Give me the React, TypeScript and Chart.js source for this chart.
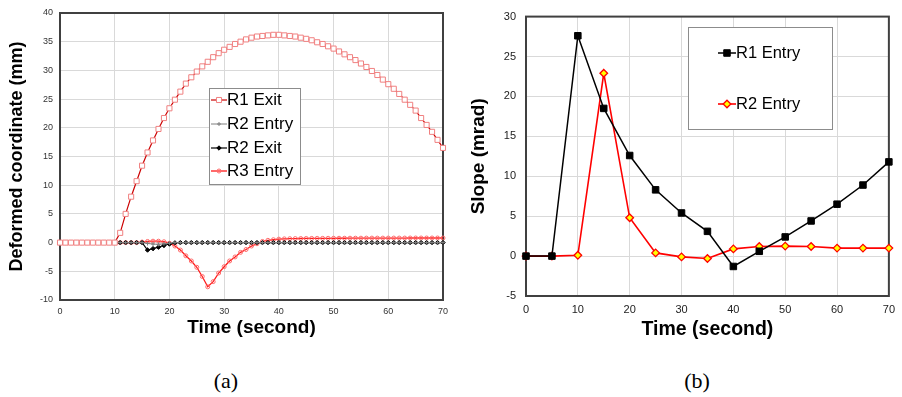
import React, { useEffect, useRef } from 'react';
import { Chart, registerables } from 'chart.js';
import { drawPoint } from 'chart.js/helpers';

Chart.register(...registerables);

const FONT = "'Liberation Sans', Arial, Helvetica, sans-serif";

// ---------- Chart (a) data ----------
const timeA = [
  0, 1, 2, 3, 4, 5, 6, 7, 8, 9, 10, 11, 12, 13, 14, 15, 16, 17, 18, 19, 20,
  21, 22, 23, 24, 25, 26, 27, 28, 29, 30, 31, 32, 33, 34, 35, 36, 37, 38, 39, 40,
  41, 42, 43, 44, 45, 46, 47, 48, 49, 50, 51, 52, 53, 54, 55, 56, 57, 58, 59, 60,
  61, 62, 63, 64, 65, 66, 67, 68, 69, 70,
];
const r1Exit = [
  0, 0, 0, 0, 0, 0, 0, 0, 0, 0, 0, 1.7, 5.0, 8.0, 10.7, 13.4, 15.7, 17.8, 19.8, 21.7, 23.4,
  24.9, 26.3, 27.7, 28.8, 29.8, 30.7, 31.5, 32.3, 33.0, 33.6, 34.1, 34.6, 35.0, 35.4, 35.7, 35.9, 36.0, 36.1, 36.2, 36.2,
  36.1, 36.0, 35.9, 35.7, 35.5, 35.25, 34.9, 34.6, 34.2, 33.8, 33.3, 32.8, 32.3, 31.8, 31.2, 30.6, 29.9, 29.2, 28.4, 27.6,
  26.8, 25.9, 24.9, 24.0, 23.0, 21.7, 20.5, 19.3, 17.9, 16.5,
];
const r2EntryA = [
  0, 0, 0, 0, 0, 0, 0, 0, 0, 0, 0, 0, 0, 0, 0, 0, -0.15, -0.25, -0.3, -0.2, -0.1,
  0, 0, 0, 0, 0, 0, 0, 0, 0, 0, 0, 0, 0, 0, 0, 0, 0, 0, 0, 0,
  0, 0, 0, 0, 0, 0, 0, 0, 0, 0, 0, 0, 0, 0, 0, 0, 0, 0, 0, 0,
  0, 0, 0, 0, 0, 0, 0, 0, 0, 0,
];
const r2Exit = [
  0, 0, 0, 0, 0, 0, 0, 0, 0, 0, 0, 0, 0, 0, 0, 0, -1.3, -1.05, -0.8, -0.5, -0.25,
  -0.05, 0, 0, 0, 0, 0, 0, 0, 0, 0, 0, 0, 0, 0, 0, 0, 0, 0, 0, 0,
  0, 0, 0, 0, 0, 0, 0, 0, 0, 0, 0, 0, 0, 0, 0, 0, 0, 0, 0, 0,
  0, 0, 0, 0, 0, 0, 0, 0, 0, 0,
];
const r3Entry = [
  0, 0, 0, 0, 0, 0, 0, 0, 0, 0, 0, 0, 0, 0, 0, 0.1, 0.2, 0.25, 0.25, 0.15, -0.1,
  -0.6, -1.3, -2.3, -3.2, -4.3, -5.9, -7.7, -6.8, -5.3, -4.2, -3.2, -2.5, -1.7, -1.2, -0.6, -0.2, 0.2, 0.4, 0.5, 0.6,
  0.65, 0.68, 0.7, 0.71, 0.72, 0.73, 0.74, 0.74, 0.75, 0.75, 0.76, 0.76, 0.77, 0.77, 0.77, 0.78, 0.78, 0.78, 0.78, 0.79,
  0.79, 0.79, 0.79, 0.8, 0.8, 0.8, 0.8, 0.8, 0.8, 0.8,
];
const labelsA = ['R1 Exit', 'R2 Entry', 'R2 Exit', 'R3 Entry'];

// ---------- Chart (b) data ----------
const timeB = [0, 5, 10, 15, 20, 25, 30, 35, 40, 45, 50, 55, 60, 65, 70];
const r1EntryB = [0, 0, 27.6, 18.5, 12.6, 8.3, 5.4, 3.1, -1.3, 0.6, 2.4, 4.4, 6.5, 8.9, 11.8];
const r2EntryB = [0, 0, 0.1, 22.9, 4.8, 0.4, -0.1, -0.3, 0.9, 1.2, 1.25, 1.2, 1.0, 1.0, 1.0];
const labelsB = ['R1 Entry', 'R2 Entry'];

const toXY = (xs: number[], ys: number[]) => xs.map((x, i) => ({ x, y: ys[i] }));

const framePlugin = {
  id: 'frame',
  beforeDatasetsDraw(chart: any, _args: any, o: any) {
    const { ctx, chartArea: a } = chart;
    ctx.save();
    ctx.strokeStyle = o.color;
    ctx.lineWidth = o.width;
    ctx.strokeRect(a.left, a.top, a.right - a.left, a.bottom - a.top);
    ctx.restore();
  },
};

const boxLegendPlugin = {
  id: 'boxLegend',
  afterDraw(chart: any, _args: any, o: any) {
    const ctx = chart.ctx;
    ctx.save();
    ctx.fillStyle = '#ffffff';
    ctx.fillRect(o.x, o.y, o.w, o.h);
    ctx.strokeStyle = o.borderColor;
    ctx.lineWidth = 1;
    ctx.strokeRect(o.x + 0.5, o.y + 0.5, o.w, o.h);
    chart.data.datasets.forEach((ds: any, i: number) => {
      const y = o.rows[i];
      ctx.strokeStyle = ds.borderColor;
      ctx.lineWidth = ds.borderWidth;
      ctx.beginPath();
      ctx.moveTo(o.lineX0, y);
      ctx.lineTo(o.lineX1, y);
      ctx.stroke();
      ctx.fillStyle = ds.pointBackgroundColor;
      ctx.strokeStyle = ds.pointBorderColor;
      ctx.lineWidth = ds.pointBorderWidth;
      drawPoint(
        ctx,
        { pointStyle: ds.pointStyle, radius: ds.pointRadius, rotation: 0, borderWidth: ds.pointBorderWidth } as any,
        (o.lineX0 + o.lineX1) / 2,
        y
      );
      ctx.fillStyle = '#000000';
      ctx.font = o.font;
      ctx.textBaseline = 'middle';
      ctx.textAlign = 'left';
      ctx.fillText(ds.label, o.textX, y);
    });
    ctx.restore();
  },
};

function makeConfigA(): any {
  return {
    type: 'line',
    data: {
      datasets: [
        {
          label: labelsA[0], data: toXY(timeA, r1Exit),
          borderColor: '#cc0000', borderWidth: 1.2,
          pointStyle: 'rect', pointRadius: 3.6, pointBorderColor: '#f08080',
          pointBackgroundColor: '#ffffff', pointBorderWidth: 1, clip: false,
        },
        {
          label: labelsA[1], data: toXY(timeA, r2EntryA),
          borderColor: '#7f7f7f', borderWidth: 1,
          pointStyle: 'cross', pointRadius: 2, pointBorderColor: '#7f7f7f',
          pointBackgroundColor: '#7f7f7f', pointBorderWidth: 1, clip: false,
        },
        {
          label: labelsA[2], data: toXY(timeA, r2Exit),
          borderColor: '#000000', borderWidth: 1.2,
          pointStyle: 'rectRot', pointRadius: 2.2, pointBorderColor: '#000000',
          pointBackgroundColor: '#000000', pointBorderWidth: 1, clip: false,
        },
        {
          label: labelsA[3], data: toXY(timeA, r3Entry),
          borderColor: '#ff1a1a', borderWidth: 1.3,
          pointStyle: 'circle', pointRadius: 2, pointBorderColor: '#ff6b6b',
          pointBackgroundColor: 'rgba(255,255,255,0)', pointBorderWidth: 1, clip: false,
        },
      ],
    },
    options: {
      responsive: false,
      animation: false,
      events: [],
      layout: { padding: { top: 13, right: 12, left: 0, bottom: 0 } },
      plugins: {
        legend: { display: false },
        tooltip: { enabled: false },
        frame: { color: '#404040', width: 2 },
        boxLegend: {
          x: 209, y: 88, w: 91, h: 96, borderColor: '#8c8c8c',
          rows: [100, 124, 148, 171], lineX0: 211, lineX1: 227, textX: 227,
          font: `17px ${FONT}`,
        },
      },
      scales: {
        x: {
          type: 'linear', min: 0, max: 70,
          ticks: { stepSize: 10, autoSkip: false, maxRotation: 0, padding: 6, color: '#333333', font: { size: 9, family: FONT } },
          grid: { color: '#d9d9d9', lineWidth: 1, drawTicks: false },
          border: { display: false },
          title: { display: true, text: 'Time (second)', color: '#000000', font: { size: 19, weight: 'bold', family: FONT }, padding: { top: 0, bottom: 5.6 } },
          afterFit: (s: any) => { s.height = 45; },
        },
        y: {
          type: 'linear', min: -10, max: 40,
          ticks: { stepSize: 5, padding: 7, color: '#333333', font: { size: 9, family: FONT } },
          grid: { color: '#d9d9d9', lineWidth: 1, drawTicks: false },
          border: { display: false },
          title: { display: true, text: 'Deformed coordinate (mm)', color: '#000000', font: { size: 18, weight: 'bold', family: FONT }, padding: { top: 6.7, bottom: 0 } },
          afterFit: (s: any) => { s.width = 60; },
        },
      },
    },
    plugins: [framePlugin, boxLegendPlugin],
  };
}

function makeConfigB(): any {
  return {
    type: 'line',
    data: {
      datasets: [
        {
          label: labelsB[0], data: toXY(timeB, r1EntryB),
          borderColor: '#000000', borderWidth: 1.5,
          pointStyle: 'rect', pointRadius: 4.6, pointBorderColor: '#000000',
          pointBackgroundColor: '#000000', pointBorderWidth: 1, clip: false,
        },
        {
          label: labelsB[1], data: toXY(timeB, r2EntryB),
          borderColor: '#ff0000', borderWidth: 1.6,
          pointStyle: 'rectRot', pointRadius: 3.8, pointBorderColor: '#ff0000',
          pointBackgroundColor: '#ffff00', pointBorderWidth: 1.3, clip: false,
        },
      ],
    },
    options: {
      responsive: false,
      animation: false,
      events: [],
      layout: { padding: { top: 8, right: 7, left: 0, bottom: 0 } },
      plugins: {
        legend: { display: false },
        tooltip: { enabled: false },
        frame: { color: '#404040', width: 2 },
        boxLegend: {
          x: 233, y: 27, w: 144, h: 102, borderColor: '#8c8c8c',
          rows: [53, 104], lineX0: 263, lineX1: 281, textX: 281,
          font: `16.5px ${FONT}`,
        },
      },
      scales: {
        x: {
          type: 'linear', min: 0, max: 70,
          ticks: { stepSize: 10, autoSkip: false, maxRotation: 0, padding: 7, color: '#222222', font: { size: 11, family: FONT } },
          grid: { color: '#d9d9d9', lineWidth: 1, drawTicks: false },
          border: { display: false },
          title: { display: true, text: 'Time (second)', color: '#000000', font: { size: 19.5, weight: 'bold', family: FONT }, padding: { top: 0, bottom: 3.9 } },
          afterFit: (s: any) => { s.height = 49; },
        },
        y: {
          type: 'linear', min: -5, max: 30,
          ticks: { stepSize: 5, padding: 10, color: '#222222', font: { size: 11, family: FONT } },
          grid: { color: '#d9d9d9', lineWidth: 1, drawTicks: false },
          border: { display: false },
          title: { display: true, text: 'Slope (mrad)', color: '#000000', font: { size: 19, weight: 'bold', family: FONT }, padding: { top: 12.6, bottom: 0 } },
          afterFit: (s: any) => { s.width = 71; },
        },
      },
    },
    plugins: [framePlugin, boxLegendPlugin],
  };
}

function ChartCanvas(props: { left: number; width: number; height: number; make: () => any }) {
  const ref = useRef<HTMLCanvasElement | null>(null);
  useEffect(() => {
    if (!ref.current) return;
    const chart = new Chart(ref.current, props.make());
    return () => chart.destroy();
  }, []);
  return (
    <canvas
      ref={ref}
      width={props.width}
      height={props.height}
      style={{ position: 'absolute', left: props.left, top: 0, width: props.width, height: props.height, display: 'block' }}
    />
  );
}

const captionStyle: React.CSSProperties = {
  position: 'absolute',
  top: 367,
  width: 60,
  textAlign: 'center',
  fontFamily: "'Liberation Serif', 'Times New Roman', serif",
  fontSize: 22,
  lineHeight: '28px',
  color: '#000',
};

export default function App() {
  return (
    <div style={{ position: 'absolute', left: 0, top: 0, width: 902, height: 397, background: '#ffffff', overflow: 'hidden' }}>
      <ChartCanvas left={0} width={455} height={345} make={makeConfigA} />
      <ChartCanvas left={455} width={447} height={345} make={makeConfigB} />
      <div style={{ ...captionStyle, left: 226 - 30 }}>(a)</div>
      <div style={{ ...captionStyle, left: 697 - 30 }}>(b)</div>
    </div>
  );
}
